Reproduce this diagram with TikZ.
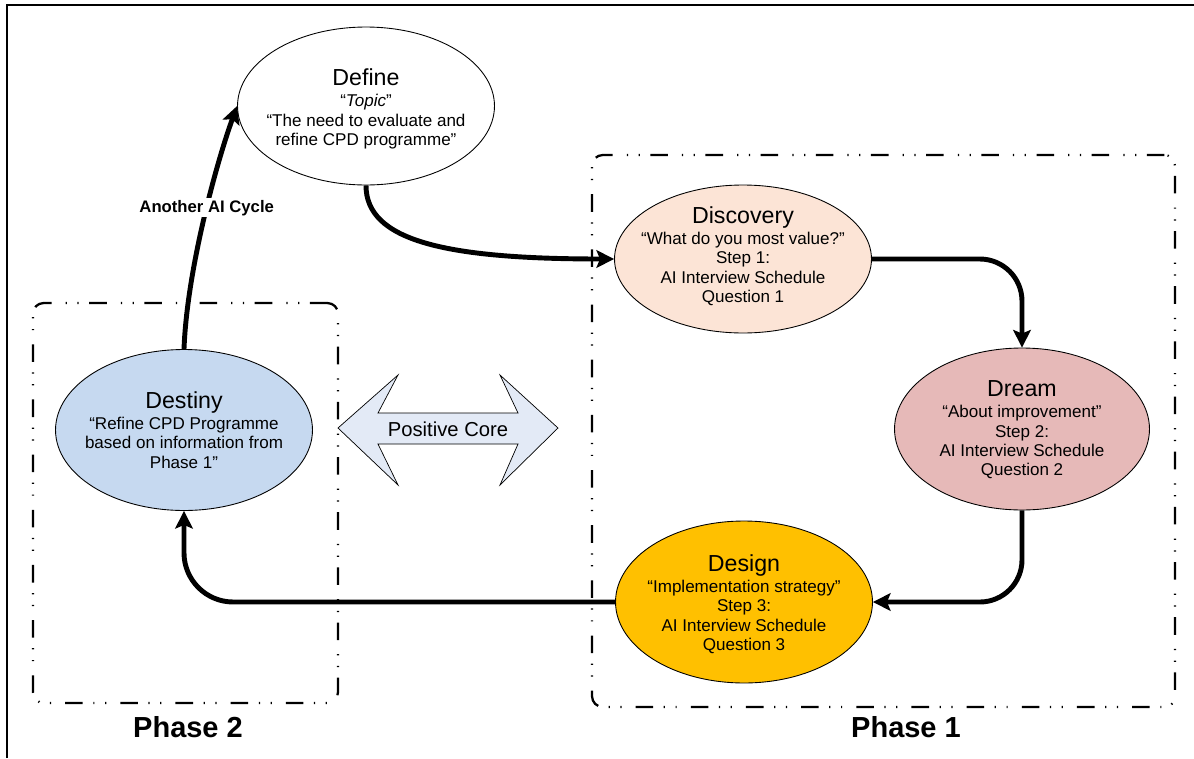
\documentclass[tikz,border=0pt]{standalone}
\usepackage{fontspec}
\setmainfont{Liberation Sans}
\usetikzlibrary{positioning}
\usetikzlibrary{arrows.meta}
\usetikzlibrary{shapes.geometric}

\definecolor{discfill}{HTML}{FCE4D6}
\definecolor{dreamfill}{HTML}{E6B9B8}
\definecolor{designfill}{HTML}{FFC000}
\definecolor{destfill}{HTML}{C6D9F0}
\definecolor{corefill}{HTML}{E3EAF6}

\newcommand{\stagetitle}[1]{{\fontsize{13.2}{14}\selectfont #1}\\[1pt]}

\begin{document}
\begin{tikzpicture}[x=0.02cm,y=-0.02cm,>={Stealth[length=10pt,width=10pt,inset=2pt]},
                stage node/.style={ellipse,draw,line width=0.5pt,inner sep=0pt},
                stage text/.style={align=center,font=\fontsize{9.7}{11}\selectfont},
                flow/.style={->,line width=2.8pt},
                phase box/.style={draw,line width=1.3pt,inner sep=0pt,rounded corners=6pt,
                  dash pattern=on 10pt off 6pt on 0.7pt off 6pt on 0.7pt off 8pt},
                phase label/.style={font=\fontsize{16.5}{18}\selectfont\bfseries}]

  \useasboundingbox (0,0) rectangle (1194,758);
  \draw[line width=0.8pt] (7,758) -- (7,5) -- (1194,5);

  % phase frames
  \node[phase box,minimum width=6.1cm,minimum height=8cm] (phasetwo) at (185.5,503) {};
  \node[phase box,minimum width=11.66cm,minimum height=11.04cm] (phaseone) at (883.5,431) {};
  \node[phase label] (phasetwolabel) at (188,727) {Phase 2};
  \node[phase label] (phaseonelabel) at (906,727) {Phase 1};

  % stages
  \node[stage node,minimum width=5.14cm,minimum height=3.16cm] (define) at (366,106) {};
  \node[stage node,fill=discfill,minimum width=5.14cm,minimum height=2.96cm] (discovery) at (743,259) {};
  \node[stage node,fill=dreamfill,minimum width=5.1cm,minimum height=3.24cm] (dream) at (1022,429) {};
  \node[stage node,fill=designfill,minimum width=5.14cm,minimum height=3.24cm] (design) at (744,602) {};
  \node[stage node,fill=destfill,minimum width=5.14cm,minimum height=3.22cm] (destiny) at (184,430) {};

  \node[stage text] (definetext) at (366,109)
    {\stagetitle{Define}“\textit{Topic}”\\“The need to evaluate and\\refine CPD programme”};
  \node[stage text] (discoverytext) at (743,256)
    {\stagetitle{Discovery}“What do you most value?”\\Step 1:\\AI Interview Schedule\\Question 1};
  \node[stage text] (dreamtext) at (1022,430)
    {\stagetitle{Dream}“About improvement”\\Step 2:\\AI Interview Schedule\\Question 2};
  \node[stage text] (designtext) at (744,604)
    {\stagetitle{Design}“Implementation strategy”\\Step 3:\\AI Interview Schedule\\Question 3};
  \node[stage text] (destinytext) at (184,430)
    {\stagetitle{Destiny}“Refine CPD Programme\\based on information from\\Phase 1”};

  % positive core
  \filldraw[fill=corefill,line width=0.4pt] (338,428) -- (398,375) -- (378,413) -- (518,413)
    -- (500,375) -- (558,428) -- (500,485) -- (518,444) -- (378,444) -- (398,485) -- cycle;
  \node[font=\fontsize{11.5}{13}\selectfont] (core) at (448,429) {Positive Core};

  % cycle
  \draw[flow] (destiny.north) .. controls +(3,-80) and +(-20,55) .. (define.west)
    node[pos=0.54,fill=white,inner sep=1pt,font=\fontsize{9.5}{11}\selectfont\bfseries] (cyclelabel) {Another AI Cycle};
  \draw[flow] (define.south) .. controls +(0,55) and +(-170,0) .. (discovery.west);
  \draw[flow,rounded corners=24pt] (discovery.east) -| (dream.north);
  \draw[flow,rounded corners=24pt] (dream.south) |- (design.east);
  \draw[flow,rounded corners=28pt] (design.west) -| (destiny.south);
\end{tikzpicture}
\end{document}
